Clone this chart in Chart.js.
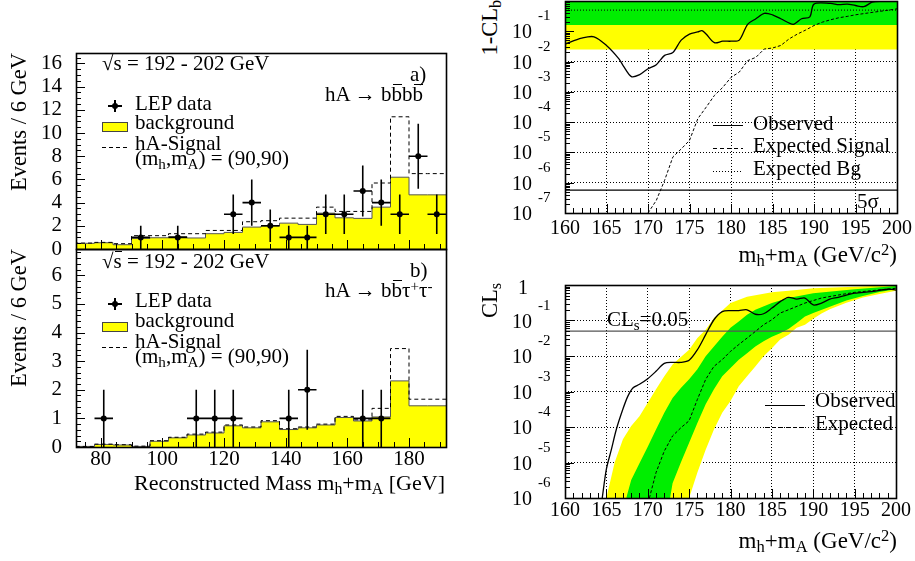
<!DOCTYPE html>
<html><head><meta charset="utf-8">
<title>LEP hA search: bbbb and bbtautau, 1-CLb and CLs</title>
<script src="https://cdn.jsdelivr.net/npm/chart.js@4.4.1/dist/chart.umd.min.js"></script>
<style>
html,body{margin:0;padding:0;background:#fff;}
#fig{position:relative;width:915px;height:561px;overflow:hidden;background:#fff;font-family:"Liberation Serif","Times New Roman",Times,serif;color:#000;}
#fig canvas{position:absolute;}
.t{position:absolute;white-space:nowrap;}
.t sub{font-size:72%;vertical-align:baseline;position:relative;top:0.25em;line-height:0;}
.t sup{font-size:72%;vertical-align:baseline;position:relative;top:-0.4em;line-height:0;}
.ol{position:relative;}
.ol::after{content:'';position:absolute;left:1px;right:0;top:2px;border-top:1.3px solid #000;}
.rot{transform:rotate(-90deg);transform-origin:0 0;text-align:right;width:200px;}
.lbl{position:absolute;white-space:nowrap;font-size:20px;line-height:20px;text-align:right;width:40px;}
.exp{position:absolute;white-space:nowrap;font-size:15px;line-height:15px;}
.ln{position:absolute;height:1px;}
.solid{background:#000;height:1.4px;}
.dash{background:repeating-linear-gradient(90deg,#000 0 4px,transparent 4px 7px);}
.dot{background:repeating-linear-gradient(90deg,#000 0 1px,transparent 1px 3px);}
.box{position:absolute;background:#ffff00;border:1px solid #444;box-sizing:border-box;}
.mk{position:absolute;background:#000;}
</style></head>
<body><div id="fig">
<canvas id="cA" width="460" height="215" style="left:0;top:45px"></canvas>
<canvas id="cB" width="460" height="260" style="left:0;top:245px"></canvas>
<canvas id="cC" width="395" height="250" style="left:520px;top:0"></canvas>
<canvas id="cD" width="395" height="291" style="left:520px;top:270px"></canvas>
</div>
<script>
// ---------------- data ----------------
// histogram bins (6 GeV wide), reconstructed mass mh+mA [GeV]
const binLowEdges = [72,78,84,90,96,102,108,114,120,126,132,138,144,150,156,162,168,174,180,186];
const binUpperEdge = 192;
const binHalfWidth = 3;
// (a) hA -> bbbb
const bgA  = [0.34,0.49,0.54,0.37,0.92,0.97,1.06,0.95,1.32,1.43,1.89,1.98,2.23,2.12,3.09,2.69,2.64,3.61,6.19,4.67];
const sigA = [0.34,0.51,0.57,0.46,1.15,1.15,1.32,1.32,1.60,1.60,2.35,2.44,2.66,2.66,3.61,3.24,3.24,5.69,11.4,6.50];
const dataAx = [93,105,123,129,135,141,147,153,159,165,171,177,183,189];
const dataAy = [1,1,3,4,2,1,1,3,3,5,4,3,8,3];
const dataAerr = [1,1,1.7,2,1.4,1,1,1.7,1.7,2.2,2,1.7,2.8,1.7];
// (b) hA -> bb tau tau
const bgB  = [0.01,0.02,0.09,0.07,0.02,0.20,0.32,0.42,0.49,0.74,0.67,0.88,0.61,0.67,0.77,1.03,0.91,1.05,2.31,1.44];
const sigB = [0.01,0.02,0.10,0.08,0.03,0.22,0.34,0.45,0.52,0.77,0.70,0.92,0.64,0.70,0.80,1.07,0.95,1.35,3.44,1.67];
const dataBx = [81,111,117,123,141,147,165,171];
const dataBy = [1,1,1,1,1,2,1,1];
const dataBerr = [1,1,1,1,1,1.4,1,1];
// tick labels
const histATicks = [0,2,4,6,8,10,12,14,16];
const histBTicks = [0,1,2,3,4,5,6];
const histXTicks = [80,100,120,140,160,180];
const massTicks = [160,165,170,175,180,185,190,195,200];
const clbExponents = [-7,-6,-5,-4,-3,-2,-1];
const clsExponents = [-6,-5,-4,-3,-2,-1,0];

// 1-CLb versus mh+mA
const clbObsX = [160,162,163.5,165,166.5,167,168,169,170,171,172,173,174,175,176,176.5,177,178,179,180,181,182,183,184,185,186,187.5,188.5,189.5,190,192,193,194,195,196,197,198,200];
const clbObsY = [0.038,0.059,0.066,0.034,0.0123,0.0074,0.0032,0.0037,0.0058,0.0079,0.016,0.020,0.051,0.081,0.095,0.105,0.081,0.042,0.047,0.047,0.051,0.17,0.26,0.39,0.35,0.26,0.17,0.26,0.30,0.79,0.83,0.76,0.79,0.71,0.65,0.91,0.98,1.0];
const clbSigX = [170,171,172,173,174,175,176,177,178,179,180,181,182,183,184,185,186,187,188,189,190,191,192,193,194,195,197,199,200];
const clbSigY = [1e-7,2.6e-7,1.2e-6,7.1e-6,1.3e-5,2.5e-5,1.3e-4,3.1e-4,7.6e-4,1.4e-3,3.0e-3,4.5e-3,0.0107,0.0138,0.026,0.028,0.034,0.056,0.081,0.11,0.155,0.20,0.24,0.28,0.31,0.35,0.42,0.50,0.55];
const clbExpBg = 0.5;
const clbOneSigma = 0.16;
const clbTwoSigma = 0.025;
const clbTop = 1;
const fiveSigma = 5.7e-7;

// CLs versus mh+mA
const clsObsX = [164.5,165,165.6,166.2,167,167.6,168.2,169,170,171,172,173,174,175,176,177,178,179,180,181,182,183,184,185,186,187,188,189,190,191,192,193,194,195,197,199,200];
const clsObsY = [1e-6,6.5e-6,2.3e-5,8.5e-5,3.2e-4,7.4e-4,1.26e-3,1.6e-3,2.3e-3,3.7e-3,6.2e-3,6.6e-3,6.6e-3,7.6e-3,0.015,0.040,0.105,0.178,0.19,0.19,0.20,0.15,0.155,0.224,0.34,0.45,0.40,0.43,0.275,0.31,0.40,0.45,0.52,0.59,0.65,0.76,0.72];
const clsExpX = [170.2,171,172,173,174,175,176,177,178,179,180,181,182,183,184,185,186,187,189,191,193,195,197,200];
const clsExpY = [1e-6,5.2e-6,2.1e-5,5.6e-5,9.5e-5,1.5e-4,6.0e-4,2.2e-3,5.1e-3,7.9e-3,0.0135,0.021,0.032,0.049,0.076,0.105,0.162,0.20,0.31,0.43,0.52,0.62,0.69,0.81];
const yellowUpX = [165,166,167,168,169,170,171,172,173,174,175,176,177,178,180,182,185,188,190,195,200];
const yellowUpY = [1e-6,1e-5,4.5e-5,1.07e-4,2.0e-4,4.8e-4,1.15e-3,2.7e-3,5.8e-3,9.3e-3,0.015,0.032,0.055,0.117,0.31,0.47,0.62,0.72,0.81,0.89,1.0];
const yellowLoX = [165,175,176,177,178,179,180,181,182,183,184,185,186,187,188,189,190,191,192,194,196,198,200];
const yellowLoY = [1e-6,1e-6,5.2e-6,2.3e-5,8.5e-5,2.5e-4,5.4e-4,1.4e-3,2.7e-3,5.1e-3,9.8e-3,0.0166,0.029,0.04,0.062,0.076,0.112,0.158,0.209,0.316,0.447,0.562,0.692];
const greenUpX = [167.4,168,169,170,171,172,173,174,175,176,177,178,179,180,181,182,183,185,187,190,195,200];
const greenUpY = [1e-6,3.2e-6,9.5e-6,2.8e-5,8.5e-5,2.5e-4,6.6e-4,1.26e-3,2.2e-3,4.2e-3,9.8e-3,0.0186,0.035,0.062,0.093,0.145,0.20,0.31,0.43,0.59,0.76,0.933];
const greenLoX = [167.4,172.7,173,174,175,176,177,178,179,180,181,182,183,184,185,186,187,188,189,190,192,194,196,198,200];
const greenLoY = [1e-6,1e-6,2.6e-6,1e-5,3.6e-5,1.3e-4,4.4e-4,1.15e-3,2.7e-3,4.6e-3,7.9e-3,0.012,0.0186,0.026,0.035,0.044,0.058,0.085,0.129,0.162,0.245,0.363,0.49,0.631,0.759];
const clsLimit = 0.05;

// ---------------- helpers ----------------
const xy = (xs, ys) => xs.map((x, i) => ({x, y: ys[i]}));
const steps = vals => binLowEdges.map((x, i) => ({x, y: vals[i]})).concat([{x: binUpperEdge, y: vals[vals.length - 1]}]);
const flat = (x0, x1, y) => [{x: x0, y}, {x: x1, y}];
const decadeValues = exps => exps.map(e => Math.pow(10, e));
const logMinor = exps => { const out = []; exps.forEach(e => { for (let m = 2; m <= 9; m++) out.push(m * Math.pow(10, e)); }); return out; };
const range = (a, b, s) => { const o = []; for (let v = a; v <= b + 1e-9; v += s) o.push(+v.toFixed(6)); return o; };

Chart.defaults.font.family = '"Liberation Serif","Times New Roman",Times,serif';
Chart.defaults.font.size = 21;
Chart.defaults.color = '#000';
Chart.defaults.animation = false;

const errorBars = {
  id: 'errorBars',
  afterDatasetsDraw(chart, args, o) {
    if (!o || !o.x) return;
    const {ctx, chartArea: a} = chart;
    const xs = chart.scales.x, ys = chart.scales.y;
    ctx.save();
    ctx.beginPath(); ctx.rect(a.left, a.top, a.width, a.height); ctx.clip();
    ctx.strokeStyle = '#000'; ctx.lineWidth = 1.6;
    ctx.beginPath();
    o.x.forEach((xv, i) => {
      const y = o.y[i], e = o.err[i];
      const px = xs.getPixelForValue(xv), py = ys.getPixelForValue(y);
      ctx.moveTo(px, ys.getPixelForValue(y - e)); ctx.lineTo(px, ys.getPixelForValue(y + e));
      ctx.moveTo(xs.getPixelForValue(xv - o.half), py); ctx.lineTo(xs.getPixelForValue(xv + o.half), py);
    });
    ctx.stroke();
    ctx.restore();
  }
};

const rootFrame = {
  id: 'rootFrame',
  afterDraw(chart, args, o) {
    const {ctx, chartArea: a} = chart;
    const xs = chart.scales.x, ys = chart.scales.y;
    ctx.save();
    ctx.strokeStyle = '#000'; ctx.lineWidth = 1;
    ctx.beginPath();
    const tx = (list, len) => (list || []).forEach(v => { const p = Math.round(xs.getPixelForValue(v)) + 0.5; if (p < a.left || p > a.right) return; ctx.moveTo(p, a.bottom); ctx.lineTo(p, a.bottom - len); });
    const ty = (list, len) => (list || []).forEach(v => { const p = Math.round(ys.getPixelForValue(v)) + 0.5; if (p < a.top - 0.5 || p > a.bottom + 0.5) return; ctx.moveTo(a.left, p); ctx.lineTo(a.left + len, p); });
    tx(o.xMajor, o.majLen); tx(o.xMinor, o.minLen);
    ty(o.yMajor, o.majLen); ty(o.yMinor, o.minLen);
    ctx.stroke();
    ctx.lineWidth = 1.6;
    ctx.strokeRect(Math.round(a.left) + 0.5, Math.round(a.top) + 0.5, Math.round(a.width), Math.round(a.height));
    ctx.restore();
  }
};

function baseOptions(padding) {
  return {
    responsive: false, animation: false, events: [],
    layout: {padding},
    plugins: {legend: {display: false}, tooltip: {enabled: false}},
  };
}
const noPadV = w => s => { s.width = w; s.paddingTop = 0; s.paddingBottom = 0; };
const noPadH = h => s => { s.height = h; s.paddingLeft = 0; s.paddingRight = 0; };

// ---------------- panel (a) ----------------
const optA = baseOptions({top: 8, right: 14, bottom: 11, left: 0});
optA.plugins.errorBars = {x: dataAx, y: dataAy, err: dataAerr, half: binHalfWidth};
optA.plugins.rootFrame = {xMajor: histXTicks, xMinor: range(75, 190, 5), yMajor: histATicks, yMinor: range(0.5, 16.5, 0.5), majLen: 9, minLen: 5};
optA.scales = {
  x: {type: 'linear', min: 72, max: 192, display: false},
  y: {type: 'linear', min: 0, max: 16.9, grid: {display: false, drawTicks: false}, border: {display: false},
      ticks: {padding: 14, font: {size: 21}, autoSkip: false},
      afterBuildTicks: s => { s.ticks = histATicks.map(v => ({value: v})); },
      afterFit: noPadV(76)}
};
new Chart(document.getElementById('cA'), {
  type: 'line',
  data: {datasets: [
    {type: 'scatter', data: xy(dataAx, dataAy), pointRadius: 3, pointBackgroundColor: '#000', pointBorderWidth: 0, showLine: false},
    {data: steps(sigA), stepped: 'after', borderColor: '#000', borderWidth: 1, borderDash: [4, 3], pointRadius: 0, fill: false},
    {data: steps(bgA), stepped: 'after', borderColor: '#555', borderWidth: 1, backgroundColor: '#ffff00', pointRadius: 0, fill: 'origin'}
  ]},
  options: optA,
  plugins: [errorBars, rootFrame]
});

// ---------------- panel (b) ----------------
const optB = baseOptions({top: 4, right: 14, bottom: 0, left: 0});
optB.plugins.errorBars = {x: dataBx, y: dataBy, err: dataBerr, half: binHalfWidth};
optB.plugins.rootFrame = {xMajor: histXTicks, xMinor: range(75, 190, 5), yMajor: histBTicks, yMinor: range(0.2, 6.8, 0.2), majLen: 9, minLen: 5};
optB.scales = {
  x: {type: 'linear', min: 72, max: 192, grid: {display: false, drawTicks: false}, border: {display: false},
      ticks: {padding: 0, font: {size: 21}, autoSkip: false, maxRotation: 0, minRotation: 0},
      afterBuildTicks: s => { s.ticks = histXTicks.map(v => ({value: v})); },
      afterFit: noPadH(58)},
  y: {type: 'linear', min: 0, max: 6.92, grid: {display: false, drawTicks: false}, border: {display: false},
      ticks: {padding: 14, font: {size: 21}, autoSkip: false},
      afterBuildTicks: s => { s.ticks = histBTicks.map(v => ({value: v})); },
      afterFit: noPadV(76)}
};
new Chart(document.getElementById('cB'), {
  type: 'line',
  data: {datasets: [
    {type: 'scatter', data: xy(dataBx, dataBy), pointRadius: 3, pointBackgroundColor: '#000', pointBorderWidth: 0, showLine: false},
    {data: steps(sigB), stepped: 'after', borderColor: '#000', borderWidth: 1, borderDash: [4, 3], pointRadius: 0, fill: false},
    {data: steps(bgB), stepped: 'after', borderColor: '#555', borderWidth: 1, backgroundColor: '#ffff00', pointRadius: 0, fill: 'origin'}
  ]},
  options: optB,
  plugins: [errorBars, rootFrame]
});

// ---------------- shared scale builders for log panels ----------------
function massAxis(height, pad) {
  return {type: 'linear', min: 160, max: 200, z: 1,
    grid: {display: true, color: '#000', lineWidth: 1, drawTicks: false}, border: {display: false, dash: [1, 2]},
    ticks: {padding: pad, font: {size: 20}, autoSkip: false, maxRotation: 0, minRotation: 0, callback: v => String(v)},
    afterBuildTicks: s => { s.ticks = massTicks.map(v => ({value: v})); },
    afterFit: noPadH(height)};
}
function logAxis(minV, maxV, exps) {
  return {type: 'logarithmic', min: minV, max: maxV, z: 1,
    grid: {display: true, color: '#000', lineWidth: 1, drawTicks: false}, border: {display: false, dash: [1, 2]},
    ticks: {display: false},
    afterBuildTicks: s => { s.ticks = decadeValues(exps).map(v => ({value: v})); },
    afterFit: noPadV(45)};
}
const GREEN = '#00ee00', YELLOW = '#ffff00';
const band = (data, color, fill) => ({data, borderWidth: 0, borderColor: 'rgba(0,0,0,0)', backgroundColor: color, pointRadius: 0, fill, tension: 0});

// ---------------- 1-CLb panel ----------------
const optC = baseOptions({top: 1, right: 18, bottom: 0, left: 0});
optC.plugins.rootFrame = {xMajor: massTicks, xMinor: range(160, 200, 1), yMajor: decadeValues(clbExponents), yMinor: logMinor([-7,-6,-5,-4,-3,-2,-1]), majLen: 9, minLen: 5};
optC.scales = {x: massAxis(37, 4), y: logAxis(1e-7, 1, clbExponents.concat([0]))};
const chartC = new Chart(document.getElementById('cC'), {
  type: 'line',
  data: {datasets: [
    {data: xy(clbObsX, clbObsY), borderColor: '#000', borderWidth: 1.3, pointRadius: 0, fill: false, tension: 0.3},
    {data: xy(clbSigX, clbSigY), borderColor: '#000', borderWidth: 1, borderDash: [3, 2], pointRadius: 0, fill: false},
    {data: flat(160, 200, clbExpBg), borderColor: '#000', borderWidth: 1, borderDash: [1, 2], pointRadius: 0, fill: false},
    {data: flat(160, 200, fiveSigma), borderColor: '#000', borderWidth: 1.3, pointRadius: 0, fill: false},
    band(flat(160, 200, clbTop), GREEN, '+1'),
    band(flat(160, 200, clbOneSigma), YELLOW, '+1'),
    band(flat(160, 200, clbTwoSigma), YELLOW, false)
  ]},
  options: optC,
  plugins: [rootFrame]
});

// ---------------- CLs panel ----------------
const optD = baseOptions({top: 15, right: 19, bottom: 0, left: 0});
optD.plugins.rootFrame = {xMajor: massTicks, xMinor: range(160, 200, 1), yMajor: decadeValues(clsExponents), yMinor: logMinor([-6,-5,-4,-3,-2,-1]), majLen: 9, minLen: 5};
optD.scales = {x: massAxis(63, 1), y: logAxis(1e-6, 1, clsExponents)};
const chartD = new Chart(document.getElementById('cD'), {
  type: 'line',
  data: {datasets: [
    {data: xy(clsObsX, clsObsY), borderColor: '#000', borderWidth: 1.3, pointRadius: 0, fill: false, tension: 0.3},
    {data: xy(clsExpX, clsExpY), borderColor: '#000', borderWidth: 1, borderDash: [3, 2], pointRadius: 0, fill: false},
    {data: flat(160, 200, clsLimit), borderColor: '#555', borderWidth: 1.3, pointRadius: 0, fill: false},
    band(xy(greenUpX, greenUpY), GREEN, '+1'),
    band(xy(greenLoX, greenLoY), GREEN, false),
    band(xy(yellowUpX, yellowUpY), YELLOW, '+1'),
    band(xy(yellowLoX, yellowLoY), YELLOW, false)
  ]},
  options: optD,
  plugins: [rootFrame]
});

// ---------------- text overlays ----------------
const fig = document.getElementById('fig');
// place text by its baseline (Liberation Serif: baseline sits 0.8375 em below the top when line-height = font-size)
function txt(html, left, baseline, size, extra) {
  size = size || 21;
  const d = document.createElement('div');
  d.className = 't';
  d.innerHTML = html;
  d.style.fontSize = size + 'px';
  d.style.lineHeight = size + 'px';
  d.style.left = left + 'px';
  d.style.top = (baseline - 0.8375 * size) + 'px';
  if (extra) Object.assign(d.style, extra);
  fig.appendChild(d);
  return d;
}
function rtxt(html, right, baseline, size) {
  return txt(html, right - 400, baseline, size, {width: '400px', textAlign: 'right'});
}
function rot(html, baselineX, endY, size) {
  const d = document.createElement('div');
  d.className = 't rot';
  d.innerHTML = html;
  d.style.fontSize = size + 'px';
  d.style.lineHeight = size + 'px';
  d.style.left = (baselineX - 0.8375 * size) + 'px';
  d.style.top = (endY + 200) + 'px';
  fig.appendChild(d);
}
function el(cls, style) {
  const d = document.createElement('div');
  d.className = cls;
  Object.assign(d.style, style);
  fig.appendChild(d);
}
function marker(cx, cy) {
  el('mk', {left: (cx - 7) + 'px', top: (cy - 0.8) + 'px', width: '14px', height: '1.6px'});
  el('mk', {left: (cx - 0.8) + 'px', top: (cy - 6) + 'px', width: '1.6px', height: '12px'});
  el('mk', {left: (cx - 3) + 'px', top: (cy - 3) + 'px', width: '6px', height: '6px', borderRadius: '50%'});
}
const sqrtS = '√<span class="ol">s</span> = 192 - 202 GeV';
const mhma = '(m<sub>h</sub>,m<sub>A</sub>) = (90,90)';

// panel a
txt(sqrtS, 102, 71);
txt('a)', 410, 82);
txt('hA → b<span class="ol">b</span>b<span class="ol">b</span>', 325, 102);
marker(115, 106);
txt('LEP data', 135, 111);
el('box', {left: '102px', top: '122px', width: '26px', height: '10px'});
txt('background', 135, 130);
el('ln dash', {left: '102px', top: '147px', width: '26px'});
txt('hA-Signal', 135, 151);
txt(mhma, 135, 166);
rot('Events / 6 GeV', 27, 53, 22.5);

// panel b
txt(sqrtS, 102, 269);
txt('b)', 410, 278);
txt('hA → b<span class="ol">b</span>τ<sup>+</sup>τ<sup>-</sup>', 325, 298);
marker(115, 304);
txt('LEP data', 135, 308);
el('box', {left: '102px', top: '322px', width: '26px', height: '10px'});
txt('background', 135, 328);
el('ln dash', {left: '102px', top: '347px', width: '26px'});
txt('hA-Signal', 135, 349);
txt(mhma, 135, 364);
rot('Events / 6 GeV', 27, 249, 22.5);
rtxt('Reconstructed Mass m<sub>h</sub>+m<sub>A</sub> [GeV]', 445, 490, 22);

// 1-CLb panel
rot('1-CL<sub>b</sub>', 498, 0, 22.5);
el('ln solid', {left: '713px', top: '125px', width: '30px'});
txt('Observed', 753, 131);
el('ln dash', {left: '713px', top: '148px', width: '30px'});
txt('Expected Signal', 753, 153);
el('ln dot', {left: '713px', top: '171px', width: '30px'});
txt('Expected Bg', 753, 176);
txt('5σ', 857, 209);
rtxt('m<sub>h</sub>+m<sub>A</sub> (GeV/c<sup>2</sup>)', 897, 262, 23);

// CLs panel
rot('CL<sub>s</sub>', 498, 283, 22.5);
txt('CL<sub>s</sub>=0.05', 607, 327);
el('ln solid', {left: '765px', top: '405px', width: '40px'});
txt('Observed', 815, 408);
el('ln dash', {left: '765px', top: '427px', width: '40px'});
txt('Expected', 815, 431);
rtxt('m<sub>h</sub>+m<sub>A</sub> (GeV/c<sup>2</sup>)', 897, 548, 23);

// log-axis tick labels (10 with superscript exponent), placed with the chart scales
function logLabels(chart, canvasTop, exps) {
  const ys = chart.scales.y;
  exps.forEach(e => {
    const py = canvasTop + ys.getPixelForValue(Math.pow(10, e));
    const d = document.createElement('div');
    d.className = 'lbl';
    if (e === 0) {
      d.textContent = '1';
      d.style.left = '488px';
      d.style.top = (py - 8) + 'px';
    } else {
      d.textContent = '10';
      d.style.left = '492px';
      d.style.top = (py - 10) + 'px';
      const x = document.createElement('div');
      x.className = 'exp';
      x.textContent = String(e);
      x.style.left = '538px';
      x.style.top = (py - 23) + 'px';
      fig.appendChild(x);
    }
    fig.appendChild(d);
  });
}
logLabels(chartC, 0, clbExponents);
logLabels(chartD, 270, clsExponents);
</script>
</body></html>
